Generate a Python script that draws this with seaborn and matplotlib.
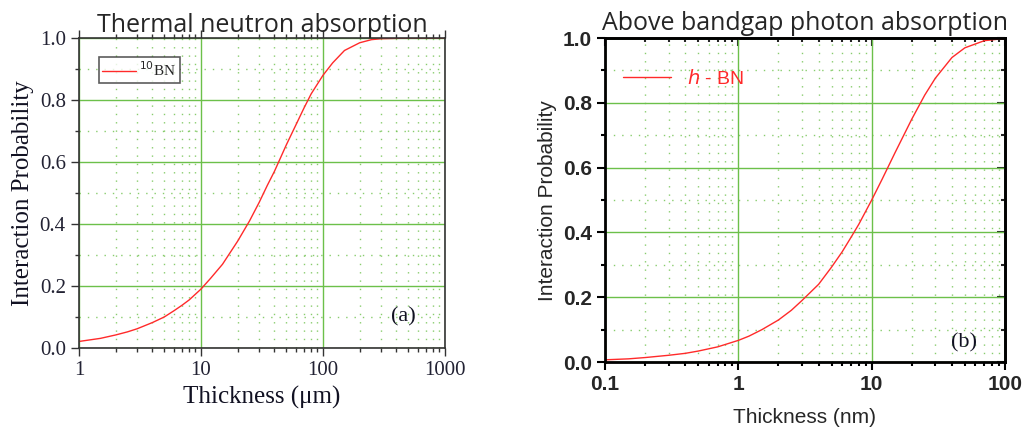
import numpy as np
import pandas as pd
import matplotlib
matplotlib.use("Agg")
import matplotlib.pyplot as plt
import seaborn as sns
from matplotlib.ticker import LogLocator, FixedLocator, MultipleLocator, NullFormatter, FuncFormatter

# ---- data ----
neutron_thickness_um = [1, 1.5, 2, 2.5, 3, 4, 5, 6, 7, 8, 10, 12, 15, 20, 25, 30, 35, 40, 50, 60, 70, 80,
                        100, 120, 150, 200, 250, 300, 500, 1000]
neutron_prob = [0.021, 0.031, 0.042, 0.052, 0.062, 0.082, 0.10, 0.12, 0.138, 0.155, 0.19, 0.225, 0.27,
                0.345, 0.41, 0.47, 0.525, 0.57, 0.655, 0.72, 0.775, 0.82, 0.88, 0.92, 0.96, 0.985,
                0.995, 0.998, 1.0, 1.0]

photon_thickness_nm = [0.1, 0.15, 0.2, 0.3, 0.4, 0.5, 0.7, 1, 1.2, 1.5, 2, 2.5, 3, 4, 5, 6, 7, 8, 10,
                       12, 15, 20, 25, 30, 40, 50, 70, 100]
photon_prob = [0.007, 0.010, 0.014, 0.021, 0.027, 0.034, 0.047, 0.067, 0.08, 0.10, 0.13, 0.16, 0.19,
               0.24, 0.293, 0.34, 0.385, 0.425, 0.50, 0.565, 0.647, 0.75, 0.824, 0.876, 0.94, 0.97, 0.992, 0.999]

left_title = "Thermal neutron absorption"
right_title = "Above bandgap photon absorption"
y_label = "Interaction Probability"
left_xlabel = "Thickness (\u03bcm)"
right_xlabel = "Thickness (nm)"
left_xticks = [1, 10, 100, 1000]
right_xticks = [0.1, 1, 10, 100]
y_ticks = [0.0, 0.2, 0.4, 0.6, 0.8, 1.0]

df_n = pd.DataFrame({"t": neutron_thickness_um, "p": neutron_prob})
df_p = pd.DataFrame({"t": photon_thickness_nm, "p": photon_prob})

sns.set_style("white")
plt.rcParams["font.family"] = ["DejaVu Sans"]

fig = plt.figure(figsize=(10.23, 4.28), dpi=100)
axL = fig.add_axes([0.0772, 0.187, 0.3578, 0.724])
axR = fig.add_axes([0.5914, 0.154, 0.3910, 0.757])

green = "#6cc04a"
red = "#ff2a2a"

for ax in (axL, axR):
    ax.set_xscale("log")
    ax.set_ylim(0, 1.0)
    ax.yaxis.set_major_locator(FixedLocator(y_ticks))
    ax.yaxis.set_minor_locator(MultipleLocator(0.1))
    ax.xaxis.set_minor_locator(LogLocator(base=10, subs=np.arange(2, 10)))
    ax.xaxis.set_minor_formatter(NullFormatter())
    ax.grid(True, which="major", color=green, lw=1.0, ls="-")
    ax.grid(True, which="minor", color=green, lw=1.0, ls=(0, (1, 5)), alpha=0.8)
    ax.set_axisbelow(True)

# ---- left panel ----
sns.lineplot(data=df_n, x="t", y="p", ax=axL, color=red, lw=1.0, label="$^{10}$BN")
axL.set_xlim(1, 1000)
axL.xaxis.set_major_locator(FixedLocator(left_xticks))
axL.xaxis.set_major_formatter(FuncFormatter(lambda v, p: f"{v:g}"))
axL.yaxis.set_major_formatter(FuncFormatter(lambda v, p: f"{v:.1f}"))
serif = ["Liberation Serif", "DejaVu Serif"]
for lab in axL.get_xticklabels() + axL.get_yticklabels():
    lab.set_family(serif)
    lab.set_fontsize(15)
    lab.set_color("#222233")
axL.set_xlabel(left_xlabel, family=serif, fontsize=18, color="#111122")
axL.set_ylabel(y_label, family=serif, fontsize=18, color="#111122")
axL.set_title(left_title, family=["Open Sans", "DejaVu Sans"], fontsize=18, pad=4)
axL.tick_params(axis="both", which="both", direction="out", color="#333333")
axL.tick_params(axis="x", which="both", top=True, bottom=True)
axL.tick_params(axis="y", which="both", left=True, right=False)
axL.tick_params(which="major", length=6, width=1)
axL.tick_params(which="minor", length=3, width=1)
for s in axL.spines.values():
    s.set_color("#333333")
    s.set_linewidth(1.2)
leg = axL.legend(loc="upper left", bbox_to_anchor=(0.045, 0.95), frameon=True, fancybox=False,
                 handlelength=2.2, handletextpad=0.2, borderpad=0.25, borderaxespad=0.2,
                 prop={"family": serif, "size": 11})
leg.get_frame().set_edgecolor("#333333")
leg.get_frame().set_linewidth(1.2)
axL.text(0.92, 0.07, "(a)", transform=axL.transAxes, ha="right", va="bottom",
         family=serif, fontsize=16, color="#111122")

# ---- right panel ----
sns.lineplot(data=df_p, x="t", y="p", ax=axR, color=red, lw=1.0, label="$\\mathit{h}$ - BN")
axR.set_xlim(0.1, 100)
axR.xaxis.set_major_locator(FixedLocator(right_xticks))
axR.xaxis.set_major_formatter(FuncFormatter(lambda v, p: f"{v:g}"))
axR.yaxis.set_major_formatter(FuncFormatter(lambda v, p: f"{v:.1f}"))
sans = ["Liberation Sans", "DejaVu Sans"]
for lab in axR.get_xticklabels() + axR.get_yticklabels():
    lab.set_family(sans)
    lab.set_fontsize(15)
    lab.set_fontweight("bold")
axR.set_xlabel(right_xlabel, family=sans, fontsize=15, labelpad=10)
axR.set_ylabel(y_label, family=sans, fontsize=15)
axR.set_title(right_title, family=["Open Sans", "DejaVu Sans"], fontsize=18, pad=6)
axR.tick_params(axis="both", which="both", color="black")
axR.tick_params(axis="x", which="both", direction="out", bottom=True)
axR.tick_params(axis="y", which="both", direction="out", left=True)
axR.tick_params(which="major", length=6, width=1.5)
axR.tick_params(which="minor", length=3, width=1.5)
sx = axR.secondary_xaxis("top")
sx.set_xscale("log")
sx.xaxis.set_major_locator(FixedLocator(right_xticks))
sx.xaxis.set_minor_locator(LogLocator(base=10, subs=np.arange(2, 10)))
sx.xaxis.set_major_formatter(NullFormatter())
sx.xaxis.set_minor_formatter(NullFormatter())
sx.tick_params(which="both", direction="in", labeltop=False, width=1.5)
sx.tick_params(which="major", length=6)
sx.tick_params(which="minor", length=3)
sy = axR.secondary_yaxis("right")
sy.yaxis.set_major_locator(FixedLocator(y_ticks))
sy.yaxis.set_minor_locator(MultipleLocator(0.1))
sy.yaxis.set_major_formatter(NullFormatter())
sy.tick_params(which="both", direction="in", labelright=False, width=1.5)
sy.tick_params(which="major", length=6)
sy.tick_params(which="minor", length=3)
sx.spines["top"].set_linewidth(2)
sy.spines["right"].set_linewidth(2)
for s in axR.spines.values():
    s.set_color("black")
    s.set_linewidth(2)
legR = axR.legend(loc="upper left", bbox_to_anchor=(0.0, 0.96), frameon=False,
                  handlelength=2.5, prop={"family": sans, "size": 14})
for t in legR.get_texts():
    t.set_color(red)
axR.text(0.93, 0.03, "(b)", transform=axR.transAxes, ha="right", va="bottom",
         family=serif, fontsize=16, color="#111122")

fig.savefig("out.png", dpi=100)
